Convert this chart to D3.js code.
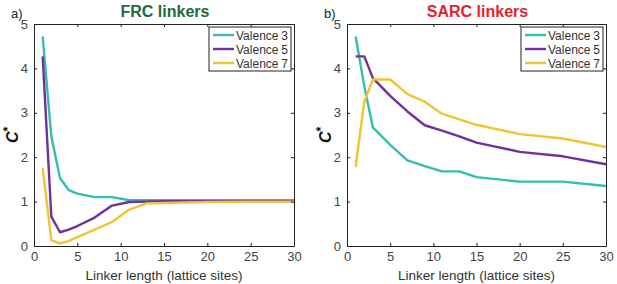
<!DOCTYPE html>
<html>
  <head>
    <title>Linker curves</title>
    <script src="https://cdn.jsdelivr.net/npm/d3@7"></script>
    <style>
      body { margin: 0; background: #fff; }
      text { font-family: "Liberation Sans", Arial, sans-serif; }
    </style>
  </head>
  <body>
    <svg id="container" width="617" height="284"></svg>
  </body>
  <script>
    // linker lengths (x) shared by every series
    const linkerLength = [1, 2, 3, 4, 5, 7, 9, 11, 13, 15, 20, 25, 30];
    const linkerLengthB = [1, 2, 3, 5, 7, 9, 11, 13, 15, 20, 25, 30];

    const frcValence3 = [4.72, 2.47, 1.53, 1.26, 1.18, 1.1, 1.1, 1.03, 1.03, 1.03, 1.03, 1.03, 1.03];
    const frcValence5 = [4.27, 0.66, 0.31, 0.37, 0.45, 0.64, 0.91, 0.99, 1.0, 1.01, 1.01, 1.01, 1.01];
    const frcValence7 = [1.76, 0.13, 0.06, 0.11, 0.2, 0.37, 0.54, 0.82, 0.96, 0.97, 0.99, 1.0, 1.0];

    const sarcValence3 = [4.72, 3.6, 2.67, 2.28, 1.93, 1.8, 1.68, 1.68, 1.55, 1.45, 1.45, 1.35];
    const sarcValence5 = [4.27, 4.27, 3.78, 3.38, 3.03, 2.72, 2.6, 2.47, 2.33, 2.12, 2.02, 1.84];
    const sarcValence7 = [1.78, 3.25, 3.75, 3.75, 3.42, 3.25, 2.98, 2.85, 2.73, 2.52, 2.42, 2.23];

    const seriesNames = ["Valence", "Valence", "Valence"];
    const seriesValence = ["3", "5", "7"];
    const seriesColors = ["#36bdb0", "#71309b", "#efc535"];
    const xTicks = [0, 5, 10, 15, 20, 25, 30];
    const yTicks = [0, 1, 2, 3, 4, 5];

    const svg = d3.select("#container");

    const panels = [
      { tag: "a)", title: "FRC linkers", titleColor: "#1d6b3a", left: 34, right: 294,
        xs: linkerLength, series: [frcValence3, frcValence5, frcValence7] },
      { tag: "b)", title: "SARC linkers", titleColor: "#e2232b", left: 347, right: 606,
        xs: linkerLengthB, series: [sarcValence3, sarcValence5, sarcValence7] }
    ];

    const plotTop = 24, plotBottom = 246;

    panels.forEach(p => {
      const x = d3.scaleLinear().domain([0, 30]).range([p.left, p.right]);
      const y = d3.scaleLinear().domain([0, 5]).range([plotBottom, plotTop]);
      const g = svg.append("g");

      // lines
      const line = d3.line().x(d => x(d[0])).y(d => y(d[1]));
      p.series.forEach((vals, i) => {
        g.append("path")
          .datum(p.xs.map((v, j) => [v, vals[j]]))
          .attr("d", line)
          .attr("fill", "none")
          .attr("stroke", seriesColors[i])
          .attr("stroke-width", 2.4)
          .attr("stroke-linejoin", "round");
      });

      // axes (ticks pointing inward on all four sides)
      const axisStyle = a => a.call(s => s.select(".domain").attr("stroke", "#222"))
        .call(s => s.selectAll(".tick line").attr("stroke", "#222"))
        .call(s => s.selectAll("text").attr("fill", "#444").attr("font-size", 13));

      g.append("g").attr("transform", `translate(0,${plotBottom})`)
        .call(d3.axisBottom(x).tickValues(xTicks).tickSize(-3).tickSizeOuter(0).tickPadding(6))
        .call(axisStyle);
      g.append("g").attr("transform", `translate(0,${plotTop})`)
        .call(d3.axisTop(x).tickValues(xTicks).tickSize(-3).tickSizeOuter(0).tickFormat(""))
        .call(axisStyle);
      g.append("g").attr("transform", `translate(${p.left},0)`)
        .call(d3.axisLeft(y).tickValues(yTicks).tickFormat(d3.format("d"))
          .tickSize(-3).tickSizeOuter(0).tickPadding(6))
        .call(axisStyle);
      g.append("g").attr("transform", `translate(${p.right},0)`)
        .call(d3.axisRight(y).tickValues(yTicks).tickSize(-3).tickSizeOuter(0).tickFormat(""))
        .call(axisStyle);

      // titles and labels
      const cx = (p.left + p.right) / 2;
      g.append("text").attr("x", cx + 1).attr("y", 17).attr("text-anchor", "middle")
        .attr("font-size", 16).attr("font-weight", "bold").attr("fill", p.titleColor)
        .text(p.title);
      g.append("text").attr("x", p.left - 23).attr("y", 18)
        .attr("font-size", 13).attr("fill", "#222").text(p.tag);
      g.append("text").attr("x", cx).attr("y", 280).attr("text-anchor", "middle")
        .attr("font-size", 13.5).attr("fill", "#333").text("Linker length (lattice sites)");

      const yl = g.append("text")
        .attr("transform", `translate(${p.left - 16},${(plotTop + plotBottom) / 2}) rotate(-90)`)
        .attr("text-anchor", "middle").attr("font-size", 16).attr("font-weight", "bold")
        .attr("fill", "#111");
      yl.append("tspan").attr("font-style", "italic").text("C");
      yl.append("tspan").attr("dy", -6).attr("font-size", 12).text("*");

      // legend
      const lx = p.right - 85, ly = 27, lw = 82, lh = 44;
      const leg = g.append("g");
      leg.append("rect").attr("x", lx).attr("y", ly).attr("width", lw).attr("height", lh)
        .attr("fill", "#fff").attr("stroke", "#222").attr("stroke-width", 1);
      seriesNames.forEach((name, i) => {
        const ry = ly + 8 + i * 14;
        leg.append("line").attr("x1", lx + 4).attr("x2", lx + 25)
          .attr("y1", ry).attr("y2", ry)
          .attr("stroke", seriesColors[i]).attr("stroke-width", 2.4);
        leg.append("text").attr("x", lx + 27).attr("y", ry + 4.5)
          .attr("font-size", 12).attr("fill", "#333").text(name);
        leg.append("text").attr("x", lx + lw - 3).attr("y", ry + 4.5).attr("text-anchor", "end")
          .attr("font-size", 12).attr("fill", "#333").text(seriesValence[i]);
      });
    });
  </script>
</html>
